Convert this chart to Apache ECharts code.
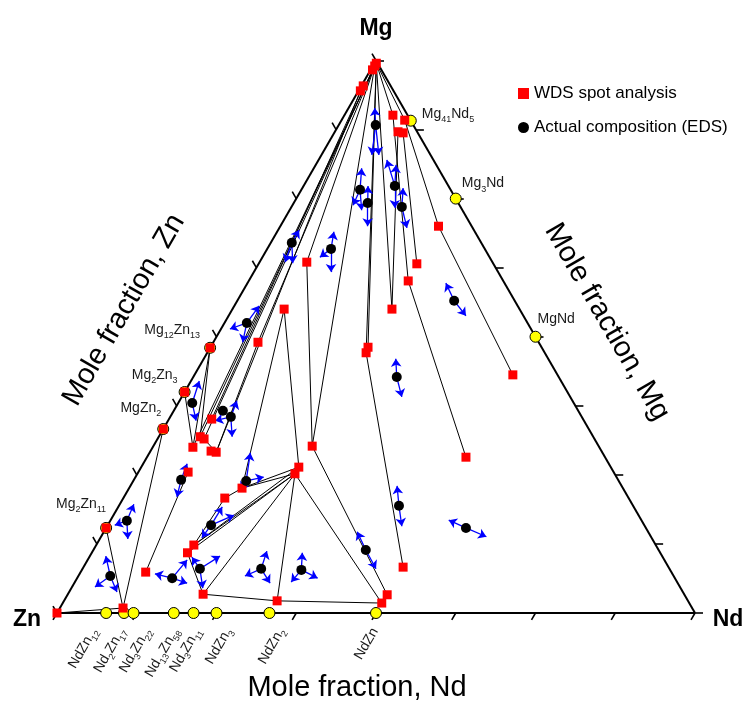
<!DOCTYPE html>
<html>
<head>
<meta charset="utf-8">
<script src="https://cdn.jsdelivr.net/npm/echarts@6/dist/echarts.min.js"></script>
<style>
  html, body { margin: 0; padding: 0; background: #fff; }
  #main { width: 747px; height: 703px; }
</style>
</head>
<body>
<div id="main"></div>
<script>
// all compositions are [x(Nd), x(Mg)] mole fractions, x(Zn) = 1 - Nd - Mg
const tickFractions = [0, 0.125, 0.25, 0.375, 0.5, 0.625, 0.75, 0.875, 1];

const znNdCompounds = ["NdZn12", "Nd2Zn17", "Nd3Zn22", "Nd13Zn58", "Nd3Zn11", "NdZn3", "NdZn2", "NdZn"];
const znNdFraction = [0.077, 0.105, 0.12, 0.183, 0.214, 0.25, 0.333, 0.5];
const mgZnCompounds = ["Mg2Zn11", "MgZn2", "Mg2Zn3", "Mg12Zn13"];
const mgZnFraction = [0.154, 0.333, 0.4, 0.48];
const mgNdCompounds = ["Mg41Nd5", "Mg3Nd", "MgNd"];
const mgNdFraction = [0.891, 0.75, 0.5];

// WDS spot analysis
const wdsSpots = [
  [0.003, 0.995], [0.003, 0.99], [0.003, 0.983], [0.003, 0.954], [0.003, 0.945],
  [0.076, 0.901], [0.099, 0.892], [0.099, 0.871], [0.108, 0.869],
  [0.248, 0.700], [0.248, 0.632], [0.250, 0.601], [0.250, 0.550],
  [0.074, 0.635], [0.081, 0.550], [0.070, 0.490],
  [0.247, 0.481], [0.249, 0.471],
  [0.499, 0.431], [0.500, 0.282],
  [0.249, 0.302], [0.247, 0.264], [0.247, 0.252],
  [0.067, 0.351], [0.065, 0.319], [0.073, 0.315], [0.063, 0.300], [0.095, 0.293], [0.104, 0.291],
  [0.078, 0.255], [0.177, 0.226], [0.159, 0.208], [0.153, 0.123], [0.150, 0.109], [0.102, 0.074],
  [0.212, 0.034], [0.334, 0.022], [0.501, 0.033], [0.500, 0.018], [0.501, 0.083],
  [0.099, 0.009], [0, 0]
];

// actual compositions (EDS)
const edsPoints = [
  [0.058, 0.883], [0.092, 0.766], [0.116, 0.742], [0.143, 0.773], [0.173, 0.735],
  [0.033, 0.670], [0.100, 0.659], [0.035, 0.525], [0.319, 0.427], [0.340, 0.565],
  [0.022, 0.380], [0.077, 0.366], [0.095, 0.355], [0.074, 0.241], [0.177, 0.239],
  [0.162, 0.159], [0.184, 0.080], [0.149, 0.063], [0.280, 0.080], [0.344, 0.078],
  [0.427, 0.114], [0.026, 0.167], [0.050, 0.067], [0.439, 0.194], [0.564, 0.154]
];

// arrow tips for each EDS point
const edsArrowTips = [
  [[0.041, 0.914], [0.079, 0.829], [0.090, 0.829]],
  [[0.075, 0.805], [0.095, 0.738], [0.113, 0.729]],
  [[0.101, 0.773], [0.137, 0.700]],
  [[0.107, 0.820], [0.126, 0.811], [0.163, 0.733]],
  [[0.158, 0.769], [0.200, 0.697]],
  [[0.033, 0.693], [0.053, 0.633], [0.040, 0.635]],
  [[0.089, 0.690], [0.121, 0.617], [0.090, 0.644]],
  [[0.039, 0.556], [0.014, 0.514], [0.046, 0.490]],
  [[0.301, 0.460], [0.345, 0.391]],
  [[0.311, 0.597], [0.372, 0.538]],
  [[0.013, 0.420], [0.044, 0.348]],
  [],
  [[0.090, 0.384], [0.115, 0.319], [0.074, 0.348]],
  [[0.069, 0.270], [0.083, 0.210]],
  [[0.158, 0.290], [0.201, 0.246], [0.176, 0.223]],
  [[0.163, 0.192], [0.189, 0.177], [0.159, 0.136]],
  [[0.161, 0.101], [0.204, 0.103], [0.206, 0.045]],
  [[0.156, 0.096], [0.118, 0.071], [0.177, 0.054]],
  [[0.273, 0.112], [0.261, 0.067], [0.307, 0.054]],
  [[0.330, 0.109], [0.377, 0.063], [0.339, 0.056]],
  [[0.397, 0.147], [0.460, 0.080]],
  [[0.022, 0.197], [0.011, 0.159], [0.044, 0.134]],
  [[0.025, 0.103], [0.036, 0.047], [0.075, 0.038]],
  [[0.418, 0.230], [0.462, 0.157]],
  [[0.530, 0.168], [0.604, 0.138]]
];

// tie lines between WDS spots
const tieLines = [
  [[0.003, 0.990], [0.065, 0.319]],
  [[0.003, 0.990], [0.063, 0.300]],
  [[0.003, 0.983], [0.073, 0.315]],
  [[0.003, 0.954], [0.067, 0.351]],
  [[0.003, 0.945], [0.104, 0.291]],
  [[0.003, 0.990], [0.070, 0.490]],
  [[0.003, 0.990], [0.074, 0.635]],
  [[0.003, 0.990], [0.249, 0.302]],
  [[0.003, 0.995], [0.247, 0.481]],
  [[0.003, 0.995], [0.249, 0.471]],
  [[0.003, 0.995], [0.250, 0.550]],
  [[0.003, 0.995], [0.076, 0.901]],
  [[0.003, 0.995], [0.099, 0.892]],
  [[0.099, 0.871], [0.250, 0.550]],
  [[0.108, 0.869], [0.248, 0.632]],
  [[0.076, 0.901], [0.250, 0.601]],
  [[0.250, 0.601], [0.500, 0.282]],
  [[0.099, 0.892], [0.248, 0.700]],
  [[0.248, 0.700], [0.499, 0.431]],
  [[0.249, 0.471], [0.501, 0.083]],
  [[0.074, 0.635], [0.249, 0.302]],
  [[0.081, 0.550], [0.247, 0.264]],
  [[0.081, 0.550], [0.177, 0.226]],
  [[0.070, 0.490], [0.104, 0.291]],
  [[0.249, 0.302], [0.501, 0.033]],
  [[0.177, 0.226], [0.247, 0.264]],
  [[0.177, 0.226], [0.247, 0.252]],
  [[0.159, 0.208], [0.177, 0.226]],
  [[0.159, 0.208], [0.153, 0.123]],
  [[0.153, 0.123], [0.247, 0.252]],
  [[0.153, 0.123], [0.247, 0.264]],
  [[0.150, 0.109], [0.247, 0.252]],
  [[0.150, 0.109], [0.212, 0.034]],
  [[0.212, 0.034], [0.247, 0.252]],
  [[0.212, 0.034], [0.334, 0.022]],
  [[0.334, 0.022], [0.500, 0.018]],
  [[0.334, 0.022], [0.247, 0.252]],
  [[0.500, 0.018], [0.247, 0.252]],
  [[0.102, 0.074], [0.078, 0.255]],
  [[0, 0.333], [0.099, 0.009]],
  [[0, 0.154], [0.099, 0.009]],
  [[0, 0], [0.099, 0.009]],
  [[0, 0.48], [0.063, 0.300]],
  [[0, 0.48], [0.065, 0.319]],
  [[0, 0.4], [0.063, 0.300]],
  [[0.073, 0.315], [0.104, 0.291]]
];

const FONT = "'Liberation Sans', Arial, sans-serif";
const SQ3 = Math.sqrt(3) / 2;
const UNIT = 638; // px per unit side
const tickLen = 8 / UNIT;

function toXY(c) {
  return [c[0] + c[1] / 2, c[1] * SQ3];
}

const edgeData = [
  [[0, 0], [1, 0]],
  [[1, 0], [0, 1]],
  [[0, 1], [0, 0]]
].map(e => ({ coords: e.map(toXY) }));

const tickData = [];
tickFractions.forEach(f => {
  const b = toXY([f, 0]);
  tickData.push({ coords: [b, [b[0] - tickLen * 0.5, b[1] - tickLen * SQ3]] });
  const r = toXY([1 - f, f]);
  tickData.push({ coords: [r, [r[0] + tickLen, r[1]]] });
  const l = toXY([0, f]);
  tickData.push({ coords: [l, [l[0] - tickLen * 0.5, l[1] + tickLen * SQ3]] });
});

const tieData = tieLines.map(t => ({ coords: t.map(toXY) }));

const arrowData = [];
edsPoints.forEach((p, i) => {
  edsArrowTips[i].forEach(tip => {
    arrowData.push({ coords: [toXY(p), toXY(tip)] });
  });
});

const compoundComps = []
  .concat(znNdFraction.map(f => [f, 0]))
  .concat(mgZnFraction.map(f => [0, f]))
  .concat(mgNdFraction.map(f => [1 - f, f]));

const wdsAll = wdsSpots.concat(mgZnFraction.map(f => [0, f]));

const chart = echarts.init(document.getElementById("main"));

const option = {
  animation: false,
  grid: { left: 0, right: 0, top: 0, bottom: 0 },
  xAxis: { type: "value", min: -57 / UNIT, max: 690 / UNIT, show: false },
  yAxis: { type: "value", min: -90 / UNIT, max: 613 / UNIT, show: false },
  legend: {
    data: ["WDS spot analysis", "Actual composition (EDS)"],
    orient: "vertical",
    left: 513,
    top: 80,
    itemWidth: 11,
    itemHeight: 11,
    itemGap: 17,
    textStyle: { fontSize: 17, color: "#000", fontFamily: FONT }
  },
  series: [
    {
      name: "edges",
      type: "lines",
      coordinateSystem: "cartesian2d",
      silent: true,
      lineStyle: { color: "#000", width: 2, opacity: 1 },
      data: edgeData
    },
    {
      name: "ticks",
      type: "lines",
      coordinateSystem: "cartesian2d",
      silent: true,
      lineStyle: { color: "#000", width: 1.6, opacity: 1 },
      data: tickData
    },
    {
      name: "tie lines",
      type: "lines",
      coordinateSystem: "cartesian2d",
      silent: true,
      lineStyle: { color: "#000", width: 1, opacity: 1 },
      data: tieData
    },
    {
      name: "arrows",
      type: "lines",
      coordinateSystem: "cartesian2d",
      silent: true,
      symbol: ["none", "arrow"],
      symbolSize: 8,
      lineStyle: { color: "#0000ff", width: 1.3, opacity: 1 },
      data: arrowData
    },
    {
      name: "compounds",
      type: "scatter",
      symbol: "circle",
      symbolSize: 11,
      clip: false,
      itemStyle: { color: "#ffff00", borderColor: "#000", borderWidth: 1, opacity: 1 },
      data: compoundComps.map(toXY)
    },
    {
      name: "WDS spot analysis",
      type: "scatter",
      symbol: "rect",
      symbolSize: 9,
      clip: false,
      itemStyle: { color: "#ff0000", opacity: 1 },
      data: wdsAll.map(toXY)
    },
    {
      name: "Actual composition (EDS)",
      type: "scatter",
      symbol: "circle",
      symbolSize: 10,
      clip: false,
      itemStyle: { color: "#000", opacity: 1 },
      data: edsPoints.map(toXY)
    }
  ]
};
chart.setOption(option);

// compound labels with subscripts
function richName(s) {
  return s.replace(/([^0-9]+)([0-9]*)/g, (m, a, d) => "{n|" + a + "}" + (d ? "{s|" + d + "}" : ""));
}
const rich = {
  n: { fontSize: 14, fontFamily: FONT, fill: "#1a1a1a", lineHeight: 20 },
  s: { fontSize: 9, fontFamily: FONT, fill: "#1a1a1a", lineHeight: 8, verticalAlign: "bottom" }
};
// label placement relative to the compound marker [dx, dy, align]
const labelPlace = {
  Mg2Zn11: [0, -24, "right"],
  MgZn2: [-2, -21, "right"],
  Mg2Zn3: [-7, -17, "right"],
  Mg12Zn13: [-10, -18, "right"],
  Mg41Nd5: [11, -7, "left"],
  Mg3Nd: [6, -15, "left"],
  MgNd: [2, -18, "left"]
};
const bottomShift = { NdZn12: -12, Nd2Zn17: -2, Nd3Zn22: 14, Nd13Zn58: 2, Nd3Zn11: 4, NdZn3: 12, NdZn2: 12, NdZn: -1 };

function px(c) {
  return chart.convertToPixel({ gridIndex: 0 }, toXY(c));
}

const graphics = [];
mgZnCompounds.forEach((name, i) => {
  const p = px([0, mgZnFraction[i]]);
  const o = labelPlace[name];
  graphics.push({ type: "text", x: p[0] + o[0], y: p[1] + o[1], silent: true,
    style: { text: richName(name), rich: rich, align: o[2], verticalAlign: "middle" } });
});
mgNdCompounds.forEach((name, i) => {
  const p = px([1 - mgNdFraction[i], mgNdFraction[i]]);
  const o = labelPlace[name];
  graphics.push({ type: "text", x: p[0] + o[0], y: p[1] + o[1], silent: true,
    style: { text: richName(name), rich: rich, align: o[2], verticalAlign: "middle" } });
});
znNdCompounds.forEach((name, i) => {
  const p = px([znNdFraction[i], 0]);
  graphics.push({ type: "text", x: p[0] + bottomShift[name], y: p[1] + 16, rotation: Math.PI / 3, silent: true,
    style: { text: richName(name), rich: rich, align: "right", verticalAlign: "middle" } });
});

// corner and axis titles
graphics.push(
  { type: "text", x: 376, y: 29, silent: true,
    style: { text: "Mg", font: "bold 23px " + FONT, fill: "#000", align: "center", verticalAlign: "middle" } },
  { type: "text", x: 27, y: 620, silent: true,
    style: { text: "Zn", font: "bold 23px " + FONT, fill: "#000", align: "center", verticalAlign: "middle" } },
  { type: "text", x: 728, y: 620, silent: true,
    style: { text: "Nd", font: "bold 23px " + FONT, fill: "#000", align: "center", verticalAlign: "middle" } },
  { type: "text", x: 357, y: 688, silent: true,
    style: { text: "Mole fraction, Nd", font: "29px " + FONT, fill: "#000", align: "center", verticalAlign: "middle" } },
  { type: "text", x: 124, y: 310, rotation: Math.PI / 3, silent: true,
    style: { text: "Mole fraction, Zn", font: "29px " + FONT, fill: "#000", align: "center", verticalAlign: "middle" } },
  { type: "text", x: 607, y: 322, rotation: -Math.PI / 3, silent: true,
    style: { text: "Mole fraction, Mg", font: "29px " + FONT, fill: "#000", align: "center", verticalAlign: "middle" } }
);

chart.setOption({ graphic: graphics });

window.addEventListener("resize", function() {
  chart.resize();
});
</script>
</body>
</html>
